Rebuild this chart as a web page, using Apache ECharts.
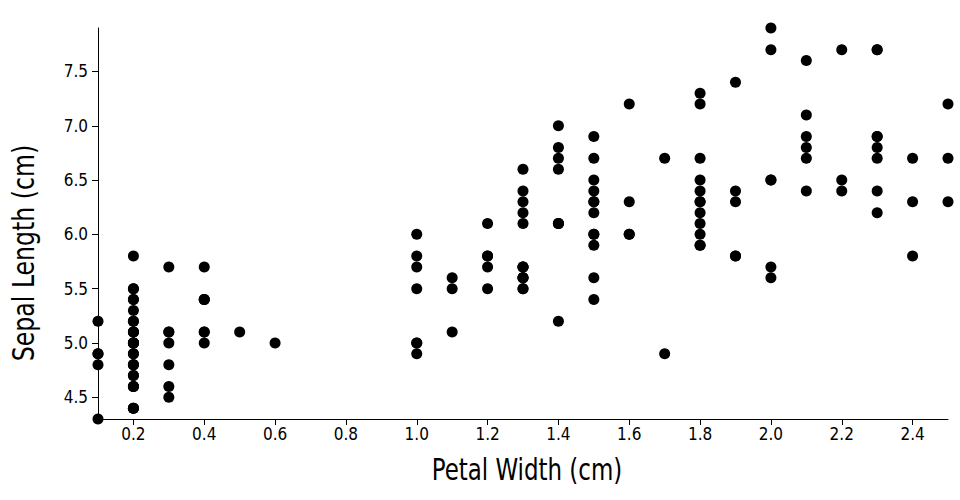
<!DOCTYPE html>
<html>
<head>
<meta charset="utf-8">
<style>
html,body{margin:0;padding:0;background:#fff;}
#chart{width:960px;height:500px;}
</style>
<script src="https://cdn.jsdelivr.net/npm/echarts@6/dist/echarts.min.js"></script>
</head>
<body>
<div id="chart"></div>
<script>
// Iris data: petal width (x) and sepal length (y)
const petalWidth = [
  0.2,0.2,0.2,0.2,0.2,0.4,0.3,0.2,0.2,0.1,0.2,0.2,0.1,0.1,0.2,0.4,0.4,0.3,0.3,0.3,
  0.2,0.4,0.2,0.5,0.2,0.2,0.4,0.2,0.2,0.2,0.2,0.4,0.1,0.2,0.2,0.2,0.2,0.1,0.2,0.2,
  0.3,0.3,0.2,0.6,0.4,0.3,0.2,0.2,0.2,0.2,
  1.4,1.5,1.5,1.3,1.5,1.3,1.6,1.0,1.3,1.4,1.0,1.5,1.0,1.4,1.3,1.4,1.5,1.0,1.5,1.1,
  1.8,1.3,1.5,1.2,1.3,1.4,1.4,1.7,1.5,1.0,1.1,1.0,1.2,1.6,1.5,1.6,1.5,1.3,1.3,1.3,
  1.2,1.4,1.2,1.0,1.3,1.2,1.3,1.3,1.1,1.3,
  2.5,1.9,2.1,1.8,2.2,2.1,1.7,1.8,1.8,2.5,2.0,1.9,2.1,2.0,2.4,2.3,1.8,2.2,2.3,1.5,
  2.3,2.0,2.0,1.8,2.1,1.8,1.8,1.8,2.1,1.6,1.9,2.0,2.2,1.5,1.4,2.3,2.4,1.8,1.8,2.1,
  2.4,2.3,1.9,2.3,2.5,2.3,1.9,2.0,2.3,1.8
];
const sepalLength = [
  5.1,4.9,4.7,4.6,5.0,5.4,4.6,5.0,4.4,4.9,5.4,4.8,4.8,4.3,5.8,5.7,5.4,5.1,5.7,5.1,
  5.4,5.1,4.6,5.1,4.8,5.0,5.0,5.2,5.2,4.7,4.8,5.4,5.2,5.5,4.9,5.0,5.5,4.9,4.4,5.1,
  5.0,4.5,4.4,5.0,5.1,4.8,5.1,4.6,5.3,5.0,
  7.0,6.4,6.9,5.5,6.5,5.7,6.3,4.9,6.6,5.2,5.0,5.9,6.0,6.1,5.6,6.7,5.6,5.8,6.2,5.6,
  5.9,6.1,6.3,6.1,6.4,6.6,6.8,6.7,6.0,5.7,5.5,5.5,5.8,6.0,5.4,6.0,6.7,6.3,5.6,5.5,
  5.5,6.1,5.8,5.0,5.6,5.7,5.7,6.2,5.1,5.7,
  6.3,5.8,7.1,6.3,6.5,7.6,4.9,7.3,6.7,7.2,6.5,6.4,6.8,5.7,5.8,6.4,6.5,7.7,7.7,6.0,
  6.9,5.6,7.7,6.3,6.7,7.2,6.2,6.1,6.4,7.2,7.4,7.9,6.4,6.3,6.1,7.7,6.3,6.4,6.0,6.9,
  6.7,6.9,5.8,6.8,6.7,6.7,6.3,6.5,6.2,5.9
];
const xTitle = 'Petal Width (cm)';
const yTitle = 'Sepal Length (cm)';

const points = petalWidth.map((w, i) => [w, sepalLength[i]]);
const FONT = '"DejaVu Sans Condensed", "DejaVu Sans", sans-serif';

const chart = echarts.init(document.getElementById('chart'), null, {renderer: 'svg'});
chart.setOption({
  animation: false,
  backgroundColor: '#fff',
  grid: {left: 98, right: 12, top: 28, bottom: 81, containLabel: false, outerBoundsMode: 'none'},
  xAxis: {
    type: 'value',
    min: 0.1, max: 2.5,
    splitNumber: 12, minInterval: 0.2, maxInterval: 0.2,
    axisLine: {show: true, onZero: false, lineStyle: {color: '#000', width: 1}},
    axisTick: {show: true, length: 6, inside: false, lineStyle: {color: '#000'}},
    splitLine: {show: false},
    axisLabel: {
      showMinLabel: false, showMaxLabel: false,
      margin: 6, color: '#000', fontFamily: FONT, fontSize: 17,
      formatter: v => v.toFixed(1)
    }
  },
  yAxis: {
    type: 'value',
    min: 4.3, max: 7.9,
    splitNumber: 7, minInterval: 0.5, maxInterval: 0.5,
    axisLine: {show: true, onZero: false, lineStyle: {color: '#000', width: 1}},
    axisTick: {show: true, length: 6, inside: false, lineStyle: {color: '#000'}},
    splitLine: {show: false},
    axisLabel: {
      showMinLabel: false, showMaxLabel: false,
      margin: 10, color: '#000', fontFamily: FONT, fontSize: 17,
      formatter: v => v.toFixed(1)
    }
  },
  graphic: [
    {type: 'text', x: 527, y: 455, scaleX: 0.85,
     style: {text: xTitle, font: '30px ' + FONT, fill: '#000', align: 'center', verticalAlign: 'top'}},
    {type: 'text', x: 9, y: 253, rotation: Math.PI / 2, scaleX: 0.875,
     style: {text: yTitle, font: '30px ' + FONT, fill: '#000', align: 'center', verticalAlign: 'top'}}
  ],
  series: [{
    type: 'scatter',
    data: points,
    symbol: 'circle',
    symbolSize: 11,
    clip: false,
    itemStyle: {color: '#000', opacity: 1},
    emphasis: {disabled: true}
  }]
});
</script>
</body>
</html>
